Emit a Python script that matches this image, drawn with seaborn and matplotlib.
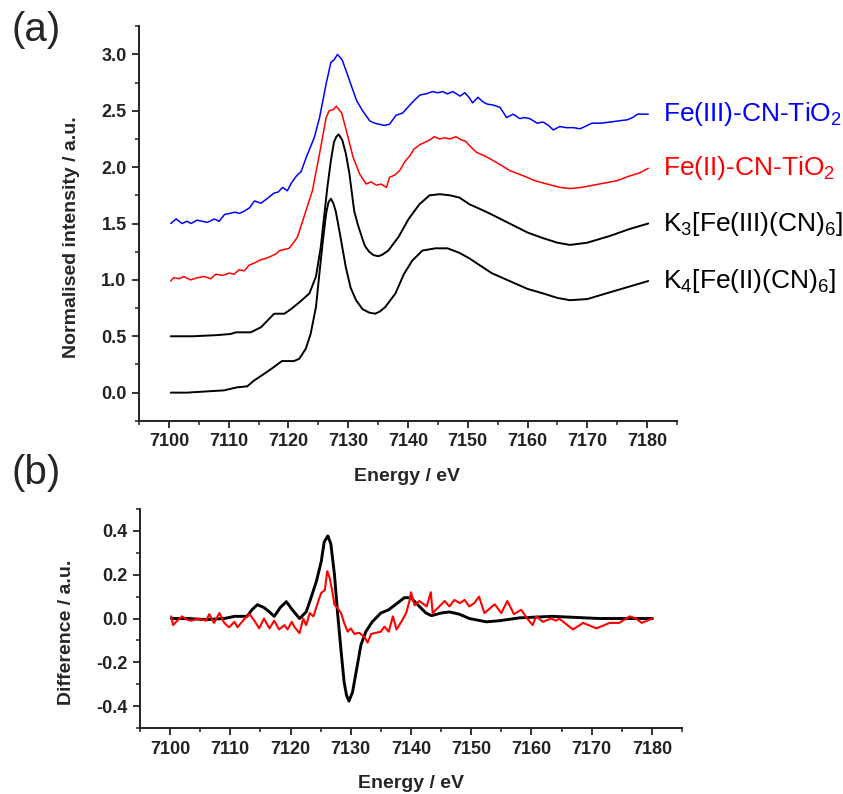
import matplotlib
matplotlib.use("Agg")
import matplotlib.pyplot as plt
from matplotlib.ticker import MultipleLocator
import seaborn as sns

# ---------------- (a) Fe K-edge XANES, stacked with offsets ----------------
k4_energy = [7100.3, 7103, 7106, 7109.2, 7111.4, 7113.1, 7114.2, 7115.9, 7117.5,
             7118.9, 7120.9, 7121.8, 7122.9, 7123.7, 7124.6, 7125.1, 7125.7,
             7126.3, 7126.7, 7127.1, 7127.5, 7127.9, 7128.5, 7129.0, 7129.6,
             7130.4, 7131.3, 7132.4, 7133.5, 7134.5, 7135.3, 7136.2, 7137.9,
             7139.3, 7140.7, 7142.4, 7144.6, 7146.6, 7148.6, 7150.3, 7152,
             7154, 7157, 7160, 7162.6, 7165, 7167.1, 7170, 7173.8, 7177, 7180.2]
k4_intensity = [0.0, 0.0, 0.01, 0.02, 0.047, 0.056, 0.106, 0.166, 0.225,
                0.28, 0.28, 0.30, 0.39, 0.52, 0.76, 1.02, 1.32,
                1.59, 1.69, 1.72, 1.68, 1.61, 1.44, 1.29, 1.11,
                0.93, 0.82, 0.74, 0.71, 0.70, 0.72, 0.76, 0.88,
                1.05, 1.17, 1.26, 1.28, 1.28, 1.24, 1.19, 1.13,
                1.06, 0.99, 0.92, 0.88, 0.84, 0.82, 0.83, 0.89, 0.94, 0.99]

k3_energy = [7100.3, 7104, 7108, 7110.3, 7111.2, 7113.7, 7115.4, 7116.5, 7117.6,
             7119.3, 7120.4, 7121.8, 7123.5, 7124.6, 7125.4, 7125.9, 7126.5,
             7127.1, 7127.6, 7128.0, 7128.4, 7129.0, 7129.6, 7130.2, 7130.7,
             7131.0, 7131.6, 7132.4, 7132.8, 7133.5, 7134.2, 7135.0, 7135.6,
             7136.7, 7138.4, 7140.1, 7141.9, 7143.6, 7145.3, 7147.0, 7148.6,
             7150.3, 7152, 7154, 7157, 7160, 7162.6, 7165, 7167.1, 7170,
             7173.8, 7177, 7180.2]
k3_intensity = [0.50, 0.50, 0.51, 0.52, 0.535, 0.535, 0.58, 0.64, 0.70,
                0.70, 0.74, 0.80, 0.88, 1.03, 1.29, 1.53, 1.82,
                2.06, 2.22, 2.27, 2.29, 2.24, 2.12, 1.94, 1.73,
                1.61, 1.49, 1.36, 1.30, 1.25, 1.22, 1.21, 1.22,
                1.26, 1.38, 1.54, 1.67, 1.75, 1.76, 1.75, 1.73,
                1.67, 1.63, 1.58, 1.50, 1.42, 1.37, 1.33, 1.31, 1.33,
                1.39, 1.45, 1.50]

fe2_energy = [7100.3, 7100.8, 7101.7, 7102.5, 7103.6, 7104.8, 7105.9, 7107.0,
              7107.8, 7109.0, 7110.1, 7110.9, 7111.7, 7112.6, 7113.4, 7114.3,
              7115.4, 7116.2, 7117.1, 7117.9, 7118.5, 7119.3, 7120.1, 7120.7,
              7121.5, 7122.6, 7124, 7125.2, 7126.3, 7126.8, 7127.5, 7128,
              7128.9, 7129.7, 7130.8, 7131.9, 7133, 7133.8, 7134.7, 7135.5,
              7136.4, 7136.9, 7137.8, 7138.6, 7139.5, 7140.3, 7141, 7142,
              7142.8, 7143.6, 7144.4, 7145.3, 7146.2, 7147, 7148, 7149,
              7149.6, 7150.5, 7151.5, 7152.8, 7154.2, 7155.5, 7157, 7158.5,
              7159.9, 7161.2, 7162.6, 7164, 7165.5, 7167.1, 7169, 7171, 7173,
              7175, 7177, 7178.8, 7180.2]
fe2_intensity = [0.99, 1.02, 1.01, 1.03, 1.00, 1.02, 1.03, 1.01,
                 1.05, 1.04, 1.06, 1.05, 1.09, 1.08, 1.13, 1.15,
                 1.18, 1.19, 1.21, 1.23, 1.26, 1.27, 1.28, 1.32,
                 1.38, 1.56, 1.79, 2.12, 2.44, 2.50, 2.51, 2.54,
                 2.48, 2.32, 2.09, 1.94, 1.85, 1.87, 1.84, 1.85,
                 1.82, 1.91, 1.93, 1.97, 2.05, 2.10, 2.16, 2.20,
                 2.22, 2.24, 2.27, 2.25, 2.26, 2.25, 2.27, 2.24,
                 2.23, 2.18, 2.13, 2.10, 2.06, 2.02, 1.97, 1.94,
                 1.91, 1.88, 1.86, 1.84, 1.82, 1.81, 1.82, 1.84, 1.86,
                 1.88, 1.92, 1.95, 1.99]

fe3_energy = [7100.3, 7101.2, 7102.2, 7103, 7103.7, 7104.7, 7105.5, 7106.4,
              7107.6, 7108.4, 7109.3, 7110.2, 7111, 7111.8, 7112.6, 7113.5,
              7114.3, 7115.4, 7116.4, 7117.6, 7118.3, 7119, 7119.8, 7120.5,
              7121.3, 7122.1, 7123, 7124.3, 7125.2, 7126.3, 7127.1, 7127.6,
              7128.2, 7129, 7130.2, 7131.4, 7132.4, 7133.6, 7134.4, 7135.2,
              7136, 7136.9, 7138, 7139.1, 7140.3, 7141, 7142, 7143, 7144.1,
              7145, 7145.8, 7146.6, 7147.5, 7148.7, 7149.5, 7150.2, 7150.8,
              7151.7, 7152.5, 7153.2, 7154.3, 7155.4, 7156.5, 7157.6, 7158.7,
              7159.5, 7160.4, 7161.6, 7162.6, 7163.5, 7164.3, 7165.4, 7166.5,
              7167.7, 7168.8, 7170, 7170.8, 7172.3, 7173.8, 7175.2, 7176.7,
              7177.6, 7178.4, 7179.3, 7180.2]
fe3_intensity = [1.50, 1.54, 1.50, 1.52, 1.50, 1.53, 1.52, 1.51,
                 1.54, 1.52, 1.58, 1.59, 1.60, 1.59, 1.61, 1.64,
                 1.70, 1.68, 1.72, 1.77, 1.78, 1.82, 1.79, 1.86,
                 1.92, 1.96, 2.09, 2.26, 2.44, 2.74, 2.93, 2.95,
                 3.00, 2.95, 2.77, 2.59, 2.50, 2.41, 2.39, 2.38,
                 2.37, 2.38, 2.46, 2.48, 2.55, 2.59, 2.64, 2.65, 2.67,
                 2.66, 2.67, 2.65, 2.67, 2.63, 2.66, 2.62, 2.57,
                 2.62, 2.58, 2.56, 2.55, 2.53, 2.44, 2.47, 2.43,
                 2.44, 2.43, 2.39, 2.40, 2.37, 2.33, 2.36, 2.35,
                 2.35, 2.34, 2.37, 2.39, 2.39, 2.40, 2.41, 2.42,
                 2.44, 2.47, 2.47, 2.47]

# ---------------- (b) difference spectra ----------------
diff_ref_energy = [7100.2, 7103, 7106, 7109, 7110.7, 7112.8, 7113.6, 7114.5,
                   7115.6, 7116.5, 7117.3, 7118.3, 7119.3, 7120.3, 7121.5,
                   7122.6, 7123.4, 7124.3, 7125.1, 7125.6, 7126.2, 7126.7,
                   7127.3, 7127.8, 7128.4, 7128.9, 7129.3, 7129.7, 7130.3,
                   7131.0, 7131.7, 7132.5, 7133.6, 7135.0, 7136.3, 7137.5,
                   7138.9, 7140, 7141.4, 7142.5, 7143.4, 7145, 7146.4, 7148,
                   7149.7, 7152.5, 7154.7, 7158, 7163.5, 7171.3, 7180.1]
diff_ref = [0.0, 0.0, -0.005, 0.0, 0.01, 0.01, 0.04, 0.063,
            0.05, 0.03, 0.01, 0.05, 0.077, 0.04, 0.0,
            0.03, 0.094, 0.17, 0.26, 0.35, 0.377, 0.34,
            0.20, 0.03, -0.15, -0.29, -0.35, -0.377, -0.336,
            -0.228, -0.12, -0.06, -0.014, 0.025, 0.04, 0.065,
            0.095, 0.095, 0.055, 0.025, 0.013, 0.025, 0.03, 0.02,
            0.0, -0.015, -0.01, 0.003, 0.01, 0.0, 0.0]

diff_tio2_energy = [7100.2, 7100.5, 7101.2, 7102, 7102.8, 7103.5, 7104.6, 7105.3,
                    7106, 7106.5, 7107.3, 7108.2, 7109, 7109.8, 7110.7, 7111.2,
                    7112.4, 7113.2, 7114, 7114.8, 7115.6, 7116.5, 7117.3, 7118.1,
                    7119, 7119.5, 7120.2, 7120.7, 7121.5, 7122.1, 7122.6, 7123.2,
                    7123.8, 7124.6, 7125.1, 7125.7, 7126.1, 7126.5, 7126.9, 7127.3,
                    7127.8, 7128.4, 7128.9, 7129.5, 7130.0, 7130.6, 7131.4, 7132.3,
                    7132.8, 7133.4, 7134.2, 7135.0, 7135.6, 7136.3, 7137, 7137.6,
                    7138.4, 7139.2, 7139.8, 7140, 7140.6, 7141.4, 7142.6, 7143.3,
                    7143.6, 7144.7, 7145.6, 7146.4, 7147.2, 7148.1, 7148.9, 7149.7,
                    7150.5, 7151.3, 7152.2, 7153.9, 7155, 7156, 7157.1, 7158.3,
                    7159.3, 7160.2, 7160.8, 7161.9, 7163.3, 7164.1, 7164.6, 7166.9,
                    7168.6, 7170.8, 7173, 7174.6, 7176.3, 7177.4, 7178.3, 7180.1]
diff_tio2 = [0.01, -0.03, -0.01, 0.01, -0.005, -0.01, 0.0, -0.005,
             -0.01, 0.02, -0.02, 0.025, -0.02, -0.04, -0.015, -0.04,
             0.0, 0.02, -0.01, -0.045, 0.0, -0.045, -0.01, -0.05,
             -0.03, -0.05, -0.015, -0.04, -0.067, 0.0, -0.03, 0.025,
             0.01, 0.078, 0.117, 0.13, 0.216, 0.185, 0.13, 0.063,
             0.048, 0.025, -0.02, -0.06, -0.045, -0.07, -0.065, -0.085,
             -0.11, -0.07, -0.065, -0.06, -0.037, -0.06, 0.01, -0.05,
             -0.015, 0.025, 0.085, 0.12, 0.06, 0.08, 0.055, 0.12,
             0.025, 0.055, 0.08, 0.055, 0.085, 0.07, 0.085, 0.055,
             0.07, 0.10, 0.025, 0.065, 0.025, 0.08, 0.02, 0.04,
             0.0, -0.03, 0.01, -0.015, 0.0, -0.01, 0.0, -0.05,
             -0.02, -0.045, -0.02, -0.02, 0.01, 0.0, -0.02, 0.0]

BLUE = "#0000ff"
RED = "#ff0000"
BLACK = "#000000"

sns.set_theme(style="ticks")
plt.rcParams["font.family"] = ["Liberation Sans", "DejaVu Sans"]
plt.rcParams["mathtext.default"] = "regular"
plt.rcParams["axes.unicode_minus"] = False
plt.rcParams["axes.linewidth"] = 1.4
for ax_name in ("xtick", "ytick"):
    plt.rcParams[f"{ax_name}.direction"] = "out"
    plt.rcParams[f"{ax_name}.major.size"] = 5
    plt.rcParams[f"{ax_name}.minor.size"] = 3
    plt.rcParams[f"{ax_name}.major.width"] = 1.3
    plt.rcParams[f"{ax_name}.minor.width"] = 1.1
    plt.rcParams[f"{ax_name}.color"] = "#222222"

fig = plt.figure(figsize=(8.43, 7.94), dpi=100)
ax_a = fig.add_axes([0.165, 0.470, 0.638, 0.497])
ax_b = fig.add_axes([0.166, 0.083, 0.643, 0.276])


def style_axis(ax):
    sns.despine(ax=ax)
    ax.spines["left"].set_color("#222222")
    ax.spines["bottom"].set_color("#222222")
    ax.set_xlim(7095, 7185)
    ax.xaxis.set_major_locator(MultipleLocator(10))
    ax.xaxis.set_minor_locator(MultipleLocator(5))
    ax.tick_params(axis="both", which="major", labelsize=13, pad=4)
    for lab in ax.get_xticklabels() + ax.get_yticklabels():
        lab.set_fontweight("bold")
    ax.set_xlabel("Energy / eV", fontsize=14, fontweight="bold")
    ax.grid(False)


# Panel (a): spectra
spectra = [
    (k4_energy, k4_intensity, BLACK, 1.4, r"K$_4$[Fe(II)(CN)$_6$]"),
    (k3_energy, k3_intensity, BLACK, 1.4, r"K$_3$[Fe(III)(CN)$_6$]"),
    (fe2_energy, fe2_intensity, RED, 1.1, r"Fe(II)-CN-TiO$_2$"),
    (fe3_energy, fe3_intensity, BLUE, 1.1, r"Fe(III)-CN-TiO$_2$"),
]
for energy, intensity, color, lw, name in spectra:
    sns.lineplot(x=energy, y=intensity, ax=ax_a, color=color, linewidth=lw,
                 sort=False, estimator=None)
    ax_a.text(7182.7, intensity[-1], name, color=color, fontsize=19,
              va="center", ha="left", clip_on=False)

ax_a.set_ylim(-0.25, 3.25)
ax_a.yaxis.set_major_locator(MultipleLocator(0.5))
ax_a.yaxis.set_minor_locator(MultipleLocator(0.25))
style_axis(ax_a)
ax_a.set_ylabel("Normalised intensity / a.u.", fontsize=14, fontweight="bold")
ax_a.yaxis.set_label_coords(-0.11, 0.466)
ax_a.xaxis.set_label_coords(0.498, -0.119)
ax_a.xaxis.label.set_va("top")

# Panel (b): difference spectra
sns.lineplot(x=diff_ref_energy, y=diff_ref, ax=ax_b, color=BLACK,
             linewidth=2.1, sort=False, estimator=None)
sns.lineplot(x=diff_tio2_energy, y=diff_tio2, ax=ax_b, color=RED,
             linewidth=1.5, sort=False, estimator=None)
ax_b.set_ylim(-0.5, 0.5)
ax_b.yaxis.set_major_locator(MultipleLocator(0.2))
ax_b.yaxis.set_minor_locator(MultipleLocator(0.1))
style_axis(ax_b)
ax_b.set_ylabel("Difference / a.u.", fontsize=14, fontweight="bold")
ax_b.yaxis.set_label_coords(-0.12, 0.438)
ax_b.xaxis.set_label_coords(0.50, -0.215)
ax_b.xaxis.label.set_va("top")

fig.text(0.014, 0.962, "(a)", fontsize=29, va="center", ha="left")
fig.text(0.014, 0.404, "(b)", fontsize=29, va="center", ha="left")

fig.savefig("out.png", dpi=100, facecolor="white")
